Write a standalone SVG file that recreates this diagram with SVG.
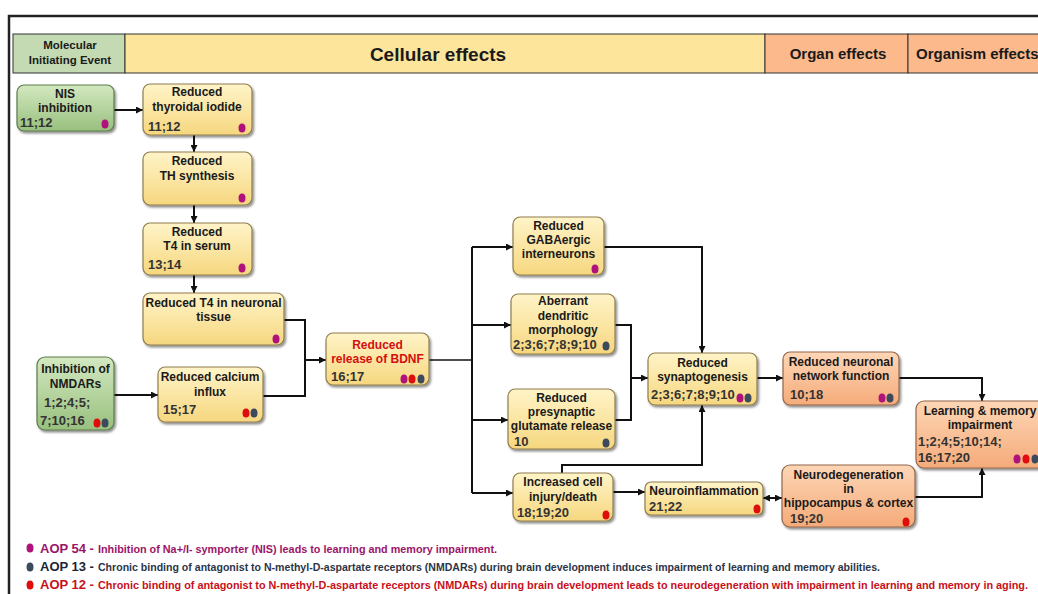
<svg xmlns="http://www.w3.org/2000/svg" width="1038" height="594" viewBox="0 0 1038 594">
<defs>
<style>
.t{font-family:"Liberation Sans",Arial,sans-serif;font-weight:bold;font-size:12px;fill:#1a1a1a;text-anchor:middle}
.n{font-family:"Liberation Sans",Arial,sans-serif;font-weight:bold;font-size:13px;fill:#333}
.r{fill:#d40f0f}
.hd{font-family:"Liberation Sans",Arial,sans-serif;font-weight:bold;fill:#1a1a1a;text-anchor:middle}
.yel{fill:url(#gy);stroke:#8f7d4e;stroke-width:1.2}
.grn{fill:url(#gg);stroke:#5c7a4a;stroke-width:1.2}
.pch{fill:url(#gp);stroke:#94664a;stroke-width:1.2}
.c{fill:none;stroke:#111;stroke-width:2}
.dm{fill:#b0127c}.dd{fill:#3d4a5e}.dr{fill:#e00d0d}
.lg{font-family:"Liberation Sans",Arial,sans-serif;font-weight:bold}
</style>
<linearGradient id="gy" x1="0" y1="0" x2="0" y2="1"><stop offset="0" stop-color="#fff4c8"/><stop offset="1" stop-color="#f6d77f"/></linearGradient>
<linearGradient id="gg" x1="0" y1="0" x2="0" y2="1"><stop offset="0" stop-color="#d3e8c0"/><stop offset="1" stop-color="#98c07e"/></linearGradient>
<linearGradient id="gp" x1="0" y1="0" x2="0" y2="1"><stop offset="0" stop-color="#fdd6b6"/><stop offset="1" stop-color="#f5ab7a"/></linearGradient>
<filter id="sh" x="-10%" y="-10%" width="130%" height="140%"><feDropShadow dx="1.5" dy="2" stdDeviation="1.2" flood-color="#000" flood-opacity="0.45"/></filter>
<marker id="a" viewBox="0 0 10 10" refX="10" refY="5" markerWidth="8" markerHeight="7" markerUnits="userSpaceOnUse" orient="auto-start-reverse"><path d="M0,0 L10,5 L0,10 z" fill="#111"/></marker>
</defs>
<rect width="1038" height="594" fill="#fff"/>
<path d="M9,594 V16 H1038" fill="none" stroke="#222" stroke-width="2.5"/>

<g id="header">
<rect x="13" y="34" width="112" height="39" fill="#c4dab2" stroke="#333" stroke-width="1"/>
<rect x="125" y="34" width="640" height="39" fill="#fde59c" stroke="#333" stroke-width="1"/>
<rect x="765" y="34" width="143" height="39" fill="#fbb98c" stroke="#333" stroke-width="1"/>
<rect x="908" y="34" width="135" height="39" fill="#fbb98c" stroke="#333" stroke-width="1"/>
<text class="hd" x="70" y="49" font-size="11.5">Molecular</text>
<text class="hd" x="70" y="64" font-size="11.5">Initiating Event</text>
<text class="hd" x="438" y="61" font-size="19">Cellular effects</text>
<text class="hd" x="838" y="59" font-size="15">Organ effects</text>
<text class="hd" x="916" y="59" font-size="15" style="text-anchor:start">Organism effects</text>
</g>

<g id="connectors">
<path class="c" d="M114,110 H143" marker-end="url(#a)"/>
<path class="c" d="M194,135 V152" marker-end="url(#a)"/>
<path class="c" d="M194,205 V223" marker-end="url(#a)"/>
<path class="c" d="M194,275 V293" marker-end="url(#a)"/>
<path class="c" d="M284,320 H305 V360 H326" marker-end="url(#a)"/>
<path class="c" d="M263,396 H305 V360"/>
<path class="c" d="M114,395 H158" marker-end="url(#a)"/>
<path class="c" d="M429,360 H472" style="stroke-width:1.3"/>
<path class="c" d="M472,247 V493"/>
<path class="c" d="M472,247 H513" marker-end="url(#a)"/>
<path class="c" d="M472,325 H511" marker-end="url(#a)"/>
<path class="c" d="M472,420 H508" marker-end="url(#a)"/>
<path class="c" d="M472,493 H513" marker-end="url(#a)"/>
<path class="c" d="M604,247 H702 V353" marker-end="url(#a)"/>
<path class="c" d="M615,325 H631 V420 H615"/>
<path class="c" d="M631,378 H648" marker-end="url(#a)"/>
<path class="c" d="M562,473 V465 H702 V405" marker-end="url(#a)"/>
<path class="c" d="M613,492 H645" marker-end="url(#a)"/>
<path class="c" d="M763,498 H782" marker-start="url(#a)" marker-end="url(#a)"/>
<path class="c" d="M757,378 H783" marker-end="url(#a)"/>
<path class="c" d="M899,378 H982 V401" marker-end="url(#a)"/>
<path class="c" d="M915,497 H982 V468" marker-end="url(#a)"/>
</g>

<g id="nis">
<rect class="grn" x="17" y="85" width="97" height="46" rx="7" filter="url(#sh)"/>
<text class="t" x="65" y="98">NIS</text><text class="t" x="65" y="112">inhibition</text>
<text class="n" x="20" y="127">11;12</text>
<ellipse class="dm" cx="105" cy="124" rx="3.5" ry="4.5"/>
</g>
<g id="thyroidal">
<rect class="yel" x="143" y="84" width="109" height="51" rx="7" filter="url(#sh)"/>
<text class="t" x="197" y="96">Reduced</text><text class="t" x="197" y="111">thyroidal iodide</text>
<text class="n" x="148" y="131">11;12</text>
<ellipse class="dm" cx="242" cy="128" rx="3.5" ry="4.5"/>
</g>
<g id="thsynth">
<rect class="yel" x="143" y="152" width="109" height="53" rx="7" filter="url(#sh)"/>
<text class="t" x="197" y="165">Reduced</text><text class="t" x="197" y="180">TH synthesis</text>
<ellipse class="dm" cx="242" cy="198" rx="3.5" ry="4.5"/>
</g>
<g id="serum">
<rect class="yel" x="143" y="223" width="109" height="52" rx="7" filter="url(#sh)"/>
<text class="t" x="197" y="236">Reduced</text><text class="t" x="197" y="250">T4 in serum</text>
<text class="n" x="148" y="269">13;14</text>
<ellipse class="dm" cx="242" cy="268" rx="3.5" ry="4.5"/>
</g>
<g id="neuronal">
<rect class="yel" x="143" y="293" width="141" height="52" rx="7" filter="url(#sh)"/>
<text class="t" x="213.5" y="307">Reduced T4 in neuronal</text><text class="t" x="213.5" y="321">tissue</text>
<ellipse class="dm" cx="276" cy="339" rx="3.5" ry="4.5"/>
</g>
<g id="nmdar">
<rect class="grn" x="37" y="357" width="77" height="73" rx="8" filter="url(#sh)"/>
<text class="t" x="75.5" y="373">Inhibition of</text><text class="t" x="75.5" y="388">NMDARs</text>
<text class="n" x="44" y="407">1;2;4;5;</text>
<text class="n" x="40" y="425">7;10;16</text>
<ellipse class="dr" cx="97" cy="423" rx="3.5" ry="4.5"/><ellipse class="dd" cx="105" cy="423" rx="3.5" ry="4.5"/>
</g>
<g id="calcium">
<rect class="yel" x="158" y="367" width="105" height="55" rx="7" filter="url(#sh)"/>
<text class="t" x="210" y="381">Reduced calcium</text><text class="t" x="210" y="396">influx</text>
<text class="n" x="163" y="414">15;17</text>
<ellipse class="dr" cx="246" cy="413" rx="3.5" ry="4.5"/><ellipse class="dd" cx="254" cy="413" rx="3.5" ry="4.5"/>
</g>
<g id="bdnf">
<rect class="yel" x="326" y="333" width="103" height="52" rx="7" filter="url(#sh)"/>
<text class="t r" x="377.5" y="349">Reduced</text><text class="t r" x="377.5" y="363">release of BDNF</text>
<text class="n" x="331" y="381">16;17</text>
<ellipse class="dm" cx="404" cy="379" rx="3.5" ry="4.5"/><ellipse class="dr" cx="412" cy="379" rx="3.5" ry="4.5"/><ellipse class="dd" cx="421" cy="379" rx="3.5" ry="4.5"/>
</g>
<g id="gaba">
<rect class="yel" x="513" y="217" width="91" height="58" rx="7" filter="url(#sh)"/>
<text class="t" x="558.5" y="230">Reduced</text><text class="t" x="558.5" y="244">GABAergic</text><text class="t" x="558.5" y="258">interneurons</text>
<ellipse class="dm" cx="595" cy="269" rx="3.5" ry="4.5"/>
</g>
<g id="dendritic">
<rect class="yel" x="511" y="294" width="104" height="60" rx="7" filter="url(#sh)"/>
<text class="t" x="563" y="305">Aberrant</text><text class="t" x="563" y="320">dendritic</text><text class="t" x="563" y="334">morphology</text>
<text class="n" x="513" y="349">2;3;6;7;8;9;10</text>
<ellipse class="dd" cx="606" cy="346" rx="3.5" ry="4.5"/>
</g>
<g id="presynaptic">
<rect class="yel" x="508" y="389" width="107" height="60" rx="7" filter="url(#sh)"/>
<text class="t" x="561.5" y="402">Reduced</text><text class="t" x="561.5" y="416">presynaptic</text><text class="t" x="561.5" y="430">glutamate release</text>
<text class="n" x="514" y="446">10</text>
<ellipse class="dd" cx="606" cy="443" rx="3.5" ry="4.5"/>
</g>
<g id="injury">
<rect class="yel" x="513" y="473" width="100" height="48" rx="7" filter="url(#sh)"/>
<text class="t" x="563" y="486">Increased cell</text><text class="t" x="563" y="501">injury/death</text>
<text class="n" x="517" y="517">18;19;20</text>
<ellipse class="dr" cx="606" cy="515" rx="3.5" ry="4.5"/>
</g>
<g id="neuroinflammation">
<rect class="yel" x="645" y="482" width="118" height="33" rx="6" filter="url(#sh)"/>
<text class="t" x="704" y="495">Neuroinflammation</text>
<text class="n" x="649" y="511">21;22</text>
<ellipse class="dr" cx="757" cy="509" rx="3.5" ry="4.5"/>
</g>
<g id="synaptogenesis">
<rect class="yel" x="648" y="353" width="109" height="52" rx="7" filter="url(#sh)"/>
<text class="t" x="702.5" y="367">Reduced</text><text class="t" x="702.5" y="381">synaptogenesis</text>
<text class="n" x="651" y="399">2;3;6;7;8;9;10</text>
<ellipse class="dm" cx="740" cy="398" rx="3.5" ry="4.5"/><ellipse class="dd" cx="748" cy="398" rx="3.5" ry="4.5"/>
</g>
<g id="network">
<rect class="pch" x="783" y="352" width="116" height="53" rx="7" filter="url(#sh)"/>
<text class="t" x="841" y="366">Reduced neuronal</text><text class="t" x="841" y="380">network function</text>
<text class="n" x="790" y="399">10;18</text>
<ellipse class="dm" cx="882" cy="398" rx="3.5" ry="4.5"/><ellipse class="dd" cx="890" cy="398" rx="3.5" ry="4.5"/>
</g>
<g id="neurodegeneration">
<rect class="pch" x="782" y="465" width="133" height="62" rx="8" filter="url(#sh)"/>
<text class="t" x="848.5" y="479">Neurodegeneration</text><text class="t" x="848.5" y="493">in</text><text class="t" x="848.5" y="507">hippocampus &amp; cortex</text>
<text class="n" x="790" y="523">19;20</text>
<ellipse class="dr" cx="906" cy="522" rx="3.5" ry="4.5"/>
</g>
<g id="learning">
<rect class="pch" x="916" y="401" width="134" height="67" rx="8" filter="url(#sh)"/>
<text class="t" x="980" y="415">Learning &amp; memory</text><text class="t" x="980" y="429">impairment</text>
<text class="n" x="918" y="446">1;2;4;5;10;14;</text>
<text class="n" x="918" y="462">16;17;20</text>
<ellipse class="dm" cx="1017" cy="459" rx="3.5" ry="4.5"/><ellipse class="dr" cx="1026" cy="459" rx="3.5" ry="4.5"/><ellipse class="dd" cx="1035" cy="459" rx="3.5" ry="4.5"/>
</g>

<g id="legend">
<ellipse class="dm" cx="30" cy="548" rx="3.5" ry="4.5"/>
<text class="lg" x="40" y="553" font-size="13" fill="#9c1468">AOP 54 -</text>
<text class="lg" x="98" y="553" font-size="10" fill="#9c1468" textLength="399" lengthAdjust="spacingAndGlyphs">Inhibition of Na+/I- symporter  (NIS) leads to learning and memory impairment.</text>
<ellipse class="dd" cx="30" cy="567" rx="3.5" ry="4.5"/>
<text class="lg" x="40" y="571" font-size="13" fill="#1d2536">AOP 13 -</text>
<text class="lg" x="98" y="571" font-size="10" fill="#2c3548" textLength="782" lengthAdjust="spacingAndGlyphs">Chronic binding of antagonist to N-methyl-D-aspartate  receptors (NMDARs)  during brain development induces impairment of learning and memory abilities.</text>
<ellipse class="dr" cx="30" cy="585" rx="3.5" ry="4.5"/>
<text class="lg" x="40" y="589" font-size="13" fill="#c8101a">AOP 12 -</text>
<text class="lg" x="98" y="589" font-size="10" fill="#c8101a" textLength="930" lengthAdjust="spacingAndGlyphs">Chronic binding of antagonist to N-methyl-D-aspartate  receptors (NMDARs)  during brain development leads to neurodegeneration with impairment in learning and memory in aging.</text>
</g>
</svg>
